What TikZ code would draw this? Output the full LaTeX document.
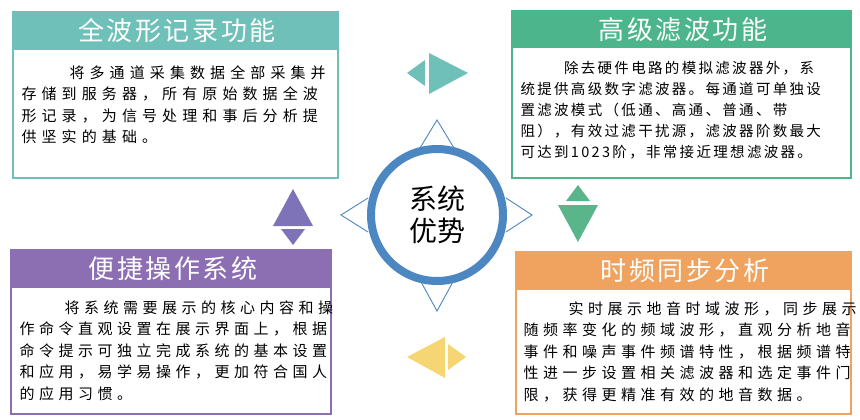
\documentclass[tikz,border=0pt]{standalone}
\usepackage{fontspec}
\setmainfont{Noto Sans CJK SC}
\newfontfamily\bodyfont[LetterSpace=30]{Noto Sans CJK SC}
\newfontfamily\bodyfonta[LetterSpace=34]{Noto Sans CJK SC}
\newfontfamily\bodyfontb[LetterSpace=16]{Noto Sans CJK SC}
\newfontfamily\hdrfont[LetterSpace=10]{Noto Sans CJK SC}
\definecolor{cteal}{HTML}{6EC0B9}
\definecolor{cgreen}{HTML}{4DB58C}
\definecolor{cpurple}{HTML}{8C6FB2}
\definecolor{corange}{HTML}{EFA35E}
\definecolor{cblue}{HTML}{4C87C2}
\definecolor{ayellow}{HTML}{F6D672}
\definecolor{apurple}{HTML}{7E72B8}
\definecolor{agreen}{HTML}{5BB58B}
\begin{document}
\begin{tikzpicture}[x=1pt,y=-1pt,
  hdr/.style={font=\hdrfont\fontsize{26}{26}\selectfont, text=white},
  body/.style={anchor=north west, align=left, font=\bodyfont\fontsize{15}{21.5}\selectfont},
  panel/.style={draw=#1, line width=1.8pt, fill=white},
  arr/.style={fill=#1, draw=none}]
\useasboundingbox (0,0) rectangle (860,420);
% panels
\draw[panel=cteal] (13,12) rectangle (338,178);
\fill[cteal] (13,12) rectangle (338,50);
\node[hdr] (h1) at (177,31) {全波形记录功能};
\node[body, font=\bodyfonta\fontsize{15}{21.5}\selectfont] (b1) at (18,62) {\hspace*{3.2em}将多通道采集数据全部采集并\\存储到服务器，所有原始数据全波\\形记录，为信号处理和事后分析提\\供坚实的基础。};
\draw[panel=cgreen] (512,11) rectangle (851,178);
\fill[cgreen] (512,11) rectangle (851,48);
\node[hdr] (h2) at (683,30) {高级滤波功能};
\node[body, font=\bodyfontb\fontsize{14.5}{21}\selectfont] (b2) at (517,58) {\hspace*{3em}除去硬件电路的模拟滤波器外，系\\统提供高级数字滤波器。每通道可单独设\\置滤波模式（低通、高通、普通、带\\阻），有效过滤干扰源，滤波器阶数最大\\可达到1023阶，非常接近理想滤波器。};
\draw[panel=cpurple] (11,250) rectangle (331,414);
\fill[cpurple] (11,250) rectangle (331,288);
\node[hdr] (h3) at (173,269) {便捷操作系统};
\node[body] (b3) at (16,297) {\hspace*{3em}将系统需要展示的核心内容和操\\作命令直观设置在展示界面上，根据\\命令提示可独立完成系统的基本设置\\和应用，易学易操作，更加符合国人\\的应用习惯。};
\draw[panel=corange] (516,252) rectangle (851,414);
\fill[corange] (516,252) rectangle (851,290);
\node[hdr] (h4) at (685,271) {时频同步分析};
\node[body] (b4) at (520,298) {\hspace*{3em}实时展示地音时域波形，同步展示\\随频率变化的频域波形，直观分析地音\\事件和噪声事件频谱特性，根据频谱特\\性进一步设置相关滤波器和选定事件门\\限，获得更精准有效的地音数据。};
% center
\draw[cblue, line width=0.9pt, fill=white] (420,148) -- (437,120) -- (454,148);
\draw[cblue, line width=0.9pt, fill=white] (420,280) -- (437,311) -- (454,280);
\draw[cblue, line width=0.9pt, fill=white] (368,198) -- (341,215) -- (368,232);
\draw[cblue, line width=0.9pt, fill=white] (506,198) -- (532,215) -- (506,232);
\node[circle, draw=cblue, line width=8pt, fill=white, minimum size=132pt, inner sep=0pt] (c) at (437,215) {};
\node[font=\fontsize{28}{32}\selectfont, align=center] (ct) at (437,215) {系统\\优势};
% arrows
\fill[arr=cteal] (407,73) -- (425,60) -- (425,86) -- cycle;
\fill[arr=cteal] (429,53) -- (468,73) -- (429,94) -- cycle;
\fill[arr=ayellow] (407,357) -- (445,337) -- (445,378) -- cycle;
\fill[arr=ayellow] (448,344) -- (466,357) -- (448,370) -- cycle;
\fill[arr=apurple] (293,189) -- (313,226) -- (273,226) -- cycle;
\fill[arr=apurple] (281,229) -- (305,229) -- (293,245) -- cycle;
\fill[arr=agreen] (578,185) -- (590,201) -- (566,201) -- cycle;
\fill[arr=agreen] (558,205) -- (598,205) -- (578,242) -- cycle;
\end{tikzpicture}
\end{document}
